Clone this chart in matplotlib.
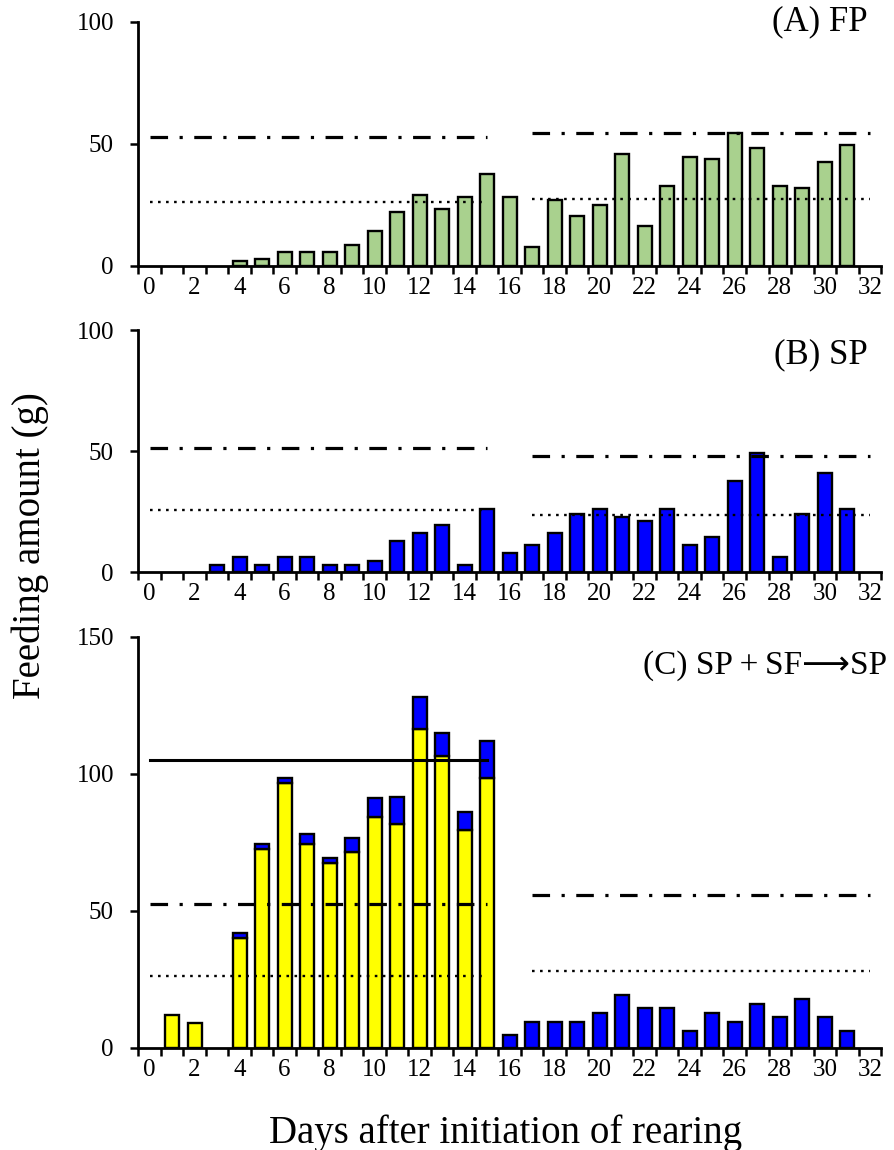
import numpy as np
import matplotlib
matplotlib.use('Agg')
from matplotlib import pyplot as plt

plt.rcParams['font.family'] = ['Liberation Serif', 'DejaVu Serif']

#days 0..31, categories run to 32
days = np.arange(32)

#(A) FP feeding amount
fp = [0, 0, 0, 0, 2, 3, 5.6, 5.6, 5.6, 8.6, 14.5, 22.1, 29.0, 23.4, 28.2, 37.8,
      28.2, 7.7, 27.2, 20.4, 25.1, 45.8, 16.4, 32.9, 44.5, 43.7, 54.4, 48.5, 32.9, 32.1, 42.7, 49.7]

#(B) SP feeding amount
sp = [0, 0, 0, 2.9, 6.2, 2.9, 6.2, 6.2, 2.9, 2.9, 4.5, 12.7, 16.0, 19.3, 2.9, 25.9,
      7.7, 11.0, 16.0, 24.1, 25.9, 22.6, 21.0, 25.9, 11.0, 14.3, 37.5, 49.1, 6.1, 24.1, 40.8, 25.9]

#(C) SP+SF -> SP, SF part (yellow) and SP part (blue)
c_sf = [0, 12.0, 9.0, 0, 40.0, 72.3, 96.6, 74.1, 67.2, 71.3, 84.2, 81.4, 116.4, 106.3, 79.3, 98.4,
        0, 0, 0, 0, 0, 0, 0, 0, 0, 0, 0, 0, 0, 0, 0, 0]
c_sp = [0, 0, 0, 0, 1.9, 1.8, 1.8, 3.9, 1.8, 5.1, 6.9, 10.0, 11.7, 8.5, 6.7, 13.4,
        4.6, 9.5, 9.5, 9.5, 12.7, 19.2, 14.3, 14.3, 6.2, 12.7, 9.5, 15.9, 11.2, 17.8, 11.2, 6.2]

#periods for the reference lines
period1 = (0, 15)
period2 = (17, 32)

#reference levels (dash-dot, dotted) per period
a_lines = {'p1': (53.0, 26.4), 'p2': (54.6, 27.3)}
b_lines = {'p1': (51.2, 25.5), 'p2': (47.9, 23.6)}
c_lines = {'p1': (52.4, 26.0), 'p2': (55.5, 27.8)}
c_solid = 105.1

green = '#a9d18e'
blue = '#0000ff'
yellow = '#ffff00'

fig = plt.figure(figsize=(8.94, 11.5), dpi=100)
left = 0.1547
width = 0.8308
axA = fig.add_axes([left, 0.7687, width, 0.2122])
axB = fig.add_axes([left, 0.5026, width, 0.2104])
axC = fig.add_axes([left, 0.0891, width, 0.3574])

bw = 0.62
edge = dict(edgecolor='black', linewidth=1.7, zorder=2)

#only draw non-zero bars (excel leaves empty days blank)
def bars(ax, vals, color, bottom=None):
    vals = np.asarray(vals, dtype=float)
    bottom = np.zeros_like(vals) if bottom is None else np.asarray(bottom, dtype=float)
    m = vals > 0
    ax.bar(days[m], vals[m], bw, bottom=bottom[m], color=color, **edge)

bars(axA, fp, green)
bars(axB, sp, blue)
bars(axC, c_sf, yellow)
bars(axC, c_sp, blue, bottom=c_sf)

def ref_lines(ax, lines):
    for key, per in (('p1', period1), ('p2', period2)):
        dd, dot = lines[key]
        ax.plot(per, [dd, dd], color='black', lw=2.3, dashes=(5.5, 3.6, 1, 3.6),
                dash_capstyle='butt', zorder=3)
        ax.plot(per, [dot, dot], color='black', lw=1.7, dashes=(1.1, 2.3),
                dash_capstyle='butt', zorder=3)

ref_lines(axA, a_lines)
ref_lines(axB, b_lines)
ref_lines(axC, c_lines)
axC.plot(period1, [c_solid, c_solid], color='black', lw=2.2, zorder=3)

for ax, top in ((axA, 100), (axB, 100), (axC, 150)):
    ax.set_xlim(-0.5, 32.5)
    ax.set_ylim(0, top)
    ax.set_yticks(np.arange(0, top + 1, 50))
    ax.set_xticks(np.arange(0, 33, 2))
    ax.set_xticks(np.arange(-0.5, 33, 1), minor=True)
    ax.tick_params(axis='x', which='major', length=0, pad=8, labelsize=18)
    ax.tick_params(axis='x', which='minor', length=6, width=1.8, direction='out')
    ax.tick_params(axis='y', length=5.5, width=1.8, direction='out', pad=12, labelsize=18)
    for s in ('top', 'right'):
        ax.spines[s].set_visible(False)
    for s in ('left', 'bottom'):
        ax.spines[s].set_linewidth(2.0)

axA.text(0.982, 1.0, '(A) FP', transform=axA.transAxes, ha='right', va='center', fontsize=25)
axB.text(0.982, 0.897, '(B) SP', transform=axB.transAxes, ha='right', va='center', fontsize=25)
axC.text(1.008, 0.93, '(C) SP\u2009+\u2009SF\u27f6SP', transform=axC.transAxes,
         ha='right', va='center', fontsize=24,
         family=['Liberation Serif', 'DejaVu Sans'])

fig.text(0.034, 0.526, 'Feeding amount (g)', rotation=90, ha='center', va='center', fontsize=28)
fig.text(0.565, 0.0148, 'Days after initiation of rearing', ha='center', va='center', fontsize=28)

plt.savefig('out.png', dpi=100)
